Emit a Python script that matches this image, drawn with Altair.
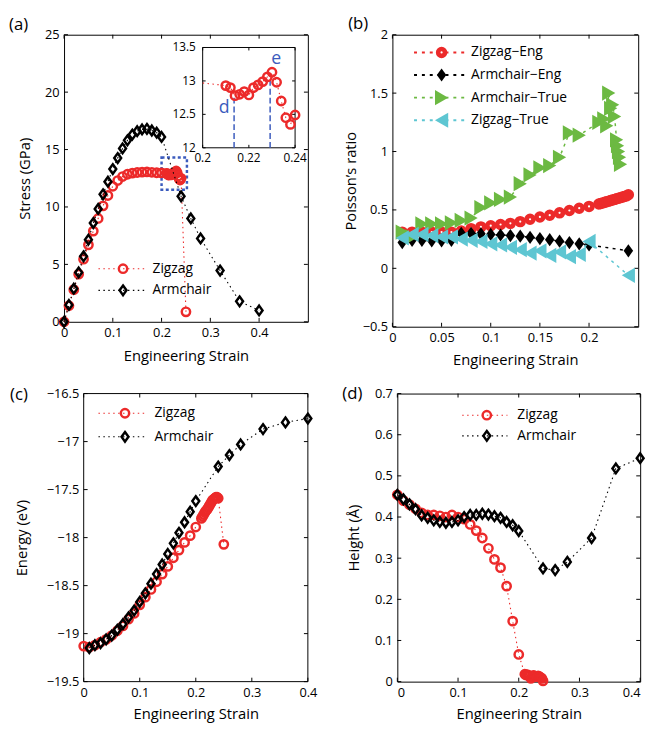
import altair as alt
import pandas as pd

FONT = "Open Sans"
RED = "#ec2a2a"
BLACK = "#000000"
GREEN = "#6cb942"
CYAN = "#5ec6d2"
BLUE = "#3b5bbd"
DIAMOND = "M0,-1L0.72,0L0,1L-0.72,0Z"

# ---------------- data ----------------
# (a) stress vs engineering strain
a_zz_strain = [0.00, 0.01, 0.02, 0.03, 0.04, 0.05, 0.06, 0.07, 0.08, 0.09, 0.10,
               0.11, 0.12, 0.13, 0.14, 0.15, 0.16, 0.17, 0.18, 0.19, 0.20, 0.21,
               0.212, 0.214, 0.216, 0.218, 0.220, 0.222, 0.224, 0.226, 0.228, 0.230,
               0.232, 0.234, 0.236, 0.238, 0.240, 0.25]
a_zz_stress = [0, 1.4, 2.8, 4.15, 5.45, 6.7, 7.9, 9.0, 10.1, 11.0, 11.8,
               12.3, 12.65, 12.85, 12.95, 13.0, 13.03, 13.05, 13.02, 12.98, 12.97, 12.93,
               12.90, 12.78, 12.80, 12.84, 12.79, 12.90, 12.94, 12.99, 13.06, 13.13,
               12.98, 12.70, 12.45, 12.35, 12.49, 0.87]
a_ac_strain = [0.00, 0.01, 0.02, 0.03, 0.04, 0.05, 0.06, 0.07, 0.08, 0.09, 0.10,
               0.11, 0.12, 0.13, 0.14, 0.15, 0.16, 0.17, 0.18, 0.19, 0.20,
               0.24, 0.26, 0.28, 0.32, 0.36, 0.40]
a_ac_stress = [0, 1.47, 2.88, 4.3, 5.7, 7.15, 8.6, 9.83, 11.1, 12.2, 13.3,
               14.26, 15.1, 15.8, 16.3, 16.6, 16.75, 16.8, 16.66, 16.47, 16.1,
               10.93, 9.0, 7.26, 4.46, 1.78, 0.99]
a_xticks = [0, 0.1, 0.2, 0.3, 0.4]
a_yticks = [0, 5, 10, 15, 20, 25]
inset_xticks = [0.2, 0.22, 0.24]
inset_xlabels = ["0.2", "0.22", "0.24"]
inset_yticks = [12, 12.5, 13, 13.5]
inset_ylabels = ["12", "12.5", "13", "13.5"]
mark_names = ["d", "e"]
mark_strain = [0.2136, 0.2292]
mark_stress = [12.77, 13.12]
mark_label_strain = [0.2093, 0.2318]
mark_label_stress = [12.6, 13.32]
zoom_box = [0.2, 0.252, 11.5, 14.3]

# (b) Poisson's ratio
b_zze_strain = [0.01, 0.02, 0.03, 0.04, 0.05, 0.06, 0.07, 0.08, 0.09, 0.10,
                0.11, 0.12, 0.13, 0.14, 0.15, 0.16, 0.17, 0.18, 0.19, 0.20, 0.21,
                0.212, 0.214, 0.216, 0.218, 0.220, 0.222, 0.224, 0.226, 0.228, 0.230,
                0.232, 0.234, 0.236, 0.238, 0.240]
b_zze_val = [0.31, 0.31, 0.31, 0.31, 0.31, 0.31, 0.32, 0.34, 0.355, 0.365,
             0.375, 0.385, 0.40, 0.42, 0.44, 0.455, 0.475, 0.495, 0.515, 0.53, 0.55,
             0.555, 0.56, 0.565, 0.57, 0.575, 0.58, 0.585, 0.59, 0.595, 0.60,
             0.605, 0.61, 0.615, 0.62, 0.63]
b_ace_strain = [0.01, 0.02, 0.03, 0.04, 0.05, 0.06, 0.07, 0.08, 0.09, 0.10,
                0.11, 0.12, 0.13, 0.14, 0.15, 0.16, 0.17, 0.18, 0.19, 0.20, 0.24]
b_ace_val = [0.22, 0.24, 0.24, 0.235, 0.235, 0.24, 0.30, 0.30, 0.295, 0.29,
             0.285, 0.28, 0.275, 0.265, 0.255, 0.245, 0.232, 0.22, 0.21, 0.20, 0.15]
b_act_strain = [0.01, 0.02, 0.03, 0.04, 0.05, 0.06, 0.07, 0.08, 0.09, 0.10,
                0.11, 0.12, 0.13, 0.14, 0.15, 0.16, 0.17, 0.18, 0.19, 0.21,
                0.215, 0.218, 0.220, 0.222, 0.224, 0.226, 0.228, 0.229, 0.230, 0.231, 0.232]
b_act_val = [0.31, 0.27, 0.38, 0.38, 0.38, 0.39, 0.41, 0.43, 0.52, 0.56,
             0.59, 0.61, 0.725, 0.80, 0.86, 0.88, 0.95, 1.16, 1.14, 1.25,
             1.28, 1.22, 1.50, 1.37, 1.40, 1.30, 1.10, 1.05, 1.00, 0.95, 0.89]
b_zzt_strain = [0.01, 0.02, 0.03, 0.04, 0.05, 0.06, 0.07, 0.08, 0.09, 0.10,
                0.11, 0.12, 0.13, 0.14, 0.15, 0.16, 0.17, 0.18, 0.19, 0.20, 0.24]
b_zzt_val = [0.26, 0.29, 0.29, 0.28, 0.27, 0.27, 0.25, 0.24, 0.23, 0.21,
             0.20, 0.18, 0.16, 0.13, 0.15, 0.11, 0.14, 0.10, 0.12, 0.23, -0.06]
b_xticks = [0, 0.05, 0.1, 0.15, 0.2]
b_yticks = [-0.5, 0, 0.5, 1, 1.5, 2]

# (c) energy
c_zz_energy = [-19.13, -19.14, -19.12, -19.09, -19.06, -19.02, -18.97, -18.92, -18.85, -18.79, -18.70,
               -18.62, -18.54, -18.46, -18.38, -18.30, -18.21, -18.13, -18.05, -17.98, -17.89, -17.80,
               -17.78, -17.76, -17.74, -17.72, -17.71, -17.69, -17.67, -17.65, -17.63, -17.61,
               -17.60, -17.59, -17.58, -17.58, -17.59, -18.07]
c_ac_strain = [0.01, 0.02, 0.03, 0.04, 0.05, 0.06, 0.07, 0.08, 0.09, 0.10,
               0.11, 0.12, 0.13, 0.14, 0.15, 0.16, 0.17, 0.18, 0.19, 0.20,
               0.24, 0.26, 0.28, 0.32, 0.36, 0.40]
c_ac_energy = [-19.15, -19.12, -19.10, -19.06, -19.02, -18.96, -18.90, -18.83, -18.76, -18.67,
               -18.58, -18.48, -18.38, -18.28, -18.17, -18.06, -17.95, -17.84, -17.73, -17.62,
               -17.26, -17.14, -17.03, -16.87, -16.80, -16.76]
c_xticks = [0, 0.1, 0.2, 0.3, 0.4]
c_yticks = [-19.5, -19, -18.5, -18, -17.5, -17, -16.5]

# (d) height
d_zz_strain = a_zz_strain[:-1]
d_zz_height = [0.454, 0.44, 0.43, 0.42, 0.41, 0.405, 0.405, 0.403, 0.40, 0.405, 0.40,
               0.395, 0.382, 0.367, 0.349, 0.324, 0.297, 0.277, 0.232, 0.147, 0.066, 0.018,
               0.016, 0.017, 0.015, 0.013, 0.008, 0.012, 0.015, 0.014, 0.013, 0.012,
               0.014, 0.012, 0.010, 0.008, 0.002]
d_ac_height = [0.454, 0.443, 0.431, 0.419, 0.404, 0.398, 0.392, 0.388, 0.386, 0.388, 0.392,
               0.40, 0.405, 0.405, 0.408, 0.406, 0.402, 0.398, 0.388, 0.38, 0.366,
               0.275, 0.271, 0.291, 0.349, 0.518, 0.543]
d_xticks = [0, 0.1, 0.2, 0.3, 0.4]
d_yticks = [0, 0.1, 0.2, 0.3, 0.4, 0.5, 0.6, 0.7]


# ---------------- helpers ----------------
class Frame:
    """Plot frame; x0 > 0 leaves an empty strip left of the plot box."""

    def __init__(self, W, H, xdom, ydom, xticks, yticks, xfmt, yfmt, ytitle, ytitle_x,
                 xtitle_y, x0=0, flush=False):
        self.W, self.H, self.x0 = W, H, x0
        rng = dict(range=[x0, W]) if x0 else {}
        self.sx = alt.Scale(domain=xdom, nice=False, zero=False, **rng)
        self.sy = alt.Scale(domain=ydom, nice=False, zero=False)
        self.xticks, self.yticks = xticks, yticks
        self.xaxis = alt.Axis(values=xticks, format=xfmt, title="Engineering Strain",
                              titleY=xtitle_y, titleBaseline="middle", labelFlush=flush,
                              labelOverlap=False)
        yextra = dict(offset=-x0) if x0 else {}
        self.yaxis = alt.Axis(values=yticks, format=yfmt, title=ytitle, titleX=ytitle_x,
                              titleBaseline="middle", labelOverlap=False, **yextra)

    def X(self, f="strain"):
        return alt.X(f"{f}:Q", scale=self.sx, axis=self.xaxis)

    def Y(self, f="val"):
        return alt.Y(f"{f}:Q", scale=self.sy, axis=self.yaxis)

    def ticks(self, L=4):
        xdf = pd.DataFrame({"strain": self.xticks})
        ydf = pd.DataFrame({"val": self.yticks})
        r = dict(color="black", strokeWidth=1)
        x0 = self.x0
        out = [
            alt.Chart(xdf).mark_rule(**r).encode(x=self.X(), y=alt.value(self.H), y2=alt.value(self.H - L)),
            alt.Chart(xdf).mark_rule(**r).encode(x=self.X(), y=alt.value(0), y2=alt.value(L)),
            alt.Chart(ydf).mark_rule(**r).encode(y=self.Y(), x=alt.value(x0), x2=alt.value(x0 + L)),
            alt.Chart(ydf).mark_rule(**r).encode(y=self.Y(), x=alt.value(self.W - L), x2=alt.value(self.W)),
        ]
        if x0:
            out.append(alt.Chart(pd.DataFrame({"k": [0]})).mark_rect(
                fillOpacity=0, stroke="black", strokeWidth=1).encode(
                x=alt.value(x0), x2=alt.value(self.W), y=alt.value(0), y2=alt.value(self.H)))
        return out

    def series(self, strain, vals, color, shape, size, filled, sw=2.5, dash=(1.5, 3.5), lw=1.1,
               dot_upto=None):
        df = pd.DataFrame({"strain": strain, "val": vals})
        base = alt.Chart(df)
        line = base.mark_line(color=color, strokeDash=list(dash), strokeWidth=lw).encode(
            x=self.X(), y=self.Y())
        if filled:
            pts = base.mark_point(shape=shape, size=size, filled=True, color=color,
                                  opacity=1, strokeWidth=0).encode(x=self.X(), y=self.Y())
        else:
            pts = base.mark_point(shape=shape, size=size, filled=False, color=color,
                                  opacity=1, strokeWidth=sw).encode(x=self.X(), y=self.Y())
        out = [line, pts]
        if dot_upto is not None:
            out.append(alt.Chart(df[df["strain"] <= dot_upto]).mark_point(
                shape="circle", size=5, filled=True, color="white", opacity=1).encode(
                x=self.X(), y=self.Y()))
        return out


def legend_entry(x0, x1, xm, xt, y, color, shape, size, filled, label,
                 dash=(1.5, 3.5), lw=1.1, sw=2.5, fs=14, dot=False):
    c = alt.Chart(pd.DataFrame({"t": [label]}))
    rule = c.mark_rule(color=color, strokeDash=list(dash), strokeWidth=lw).encode(
        x=alt.value(x0), x2=alt.value(x1), y=alt.value(y))
    if filled:
        pt = c.mark_point(shape=shape, size=size, filled=True, color=color, opacity=1,
                          strokeWidth=0).encode(x=alt.value(xm), y=alt.value(y))
    else:
        pt = c.mark_point(shape=shape, size=size, filled=False, color=color, opacity=1,
                          strokeWidth=sw).encode(x=alt.value(xm), y=alt.value(y))
    txt = c.mark_text(align="left", baseline="middle", font=FONT, fontSize=fs,
                      color="black").encode(x=alt.value(xt), y=alt.value(y), text="t:N")
    out = [rule, pt, txt]
    if dot:
        out.append(c.mark_point(shape="circle", size=5, filled=True, color="white",
                                opacity=1).encode(x=alt.value(xm), y=alt.value(y)))
    return out


def panel_label(text, dx, dy):
    return alt.Chart(pd.DataFrame({"t": [text]})).mark_text(
        align="left", baseline="middle", font=FONT, fontSize=17, color="black").encode(
        x=alt.value(dx), y=alt.value(dy), text="t:N")


# ---------------- panel (a) ----------------
fa = Frame(248, 292, [0, 0.5], [0, 25], a_xticks, a_yticks, ".1~f", "d", "Stress (GPa)", -40, 34)
box_df = pd.DataFrame({"x0": [zoom_box[0]], "x1": [zoom_box[1]],
                       "y0": [zoom_box[2]], "y1": [zoom_box[3]]})
box = alt.Chart(box_df).mark_rect(fillOpacity=0, stroke=BLUE, strokeWidth=2.5,
                                  strokeDash=[3, 2.5]).encode(
    x=fa.X("x0"), x2="x1:Q", y=fa.Y("y0"), y2="y1:Q")
main_a = alt.layer(
    *fa.ticks(),
    box,
    *fa.series(a_zz_strain, a_zz_stress, RED, "circle", 72, False),
    *fa.series(a_ac_strain, a_ac_stress, BLACK, DIAMOND, 95, False),
    *legend_entry(35, 82, 60, 90, 238, RED, "circle", 72, False, "Zigzag"),
    *legend_entry(35, 82, 60, 90, 260, BLACK, DIAMOND, 95, False, "Armchair"),
    panel_label("(a)", -56, -10),
)

IX0, IX1, IY0, IY1 = 141, 235, 13, 115
sxi = alt.Scale(domain=[0.2, 0.24], range=[IX0, IX1], nice=False, zero=False)
syi = alt.Scale(domain=[12, 13.5], range=[IY1, IY0], nice=False, zero=False)


def IXe(f="strain"):
    return alt.X(f"{f}:Q", scale=sxi, axis=None)


def IYe(f="val"):
    return alt.Y(f"{f}:Q", scale=syi, axis=None)


one = pd.DataFrame({"k": [0]})
frame = alt.Chart(one).mark_rect(fill="white", stroke="black", strokeWidth=1).encode(
    x=alt.value(IX0), x2=alt.value(IX1), y=alt.value(IY0), y2=alt.value(IY1))
ixdf = pd.DataFrame({"strain": inset_xticks, "lab": inset_xlabels})
iydf = pd.DataFrame({"val": inset_yticks, "lab": inset_ylabels})
inset_layers = [
    frame,
    alt.Chart(ixdf).mark_rule(color="black").encode(x=IXe(), y=alt.value(IY1), y2=alt.value(IY1 - 3)),
    alt.Chart(ixdf).mark_rule(color="black").encode(x=IXe(), y=alt.value(IY0), y2=alt.value(IY0 + 3)),
    alt.Chart(iydf).mark_rule(color="black").encode(y=IYe(), x=alt.value(IX0), x2=alt.value(IX0 + 3)),
    alt.Chart(iydf).mark_rule(color="black").encode(y=IYe(), x=alt.value(IX1 - 3), x2=alt.value(IX1)),
    alt.Chart(ixdf).mark_text(baseline="top", font=FONT, fontSize=12, color="black").encode(
        x=IXe(), y=alt.value(IY1 + 5), text="lab:N"),
    alt.Chart(iydf).mark_text(align="right", baseline="middle", font=FONT, fontSize=12,
                              color="black").encode(y=IYe(), x=alt.value(IX0 - 7), text="lab:N"),
]
ins_line_df = pd.DataFrame({"strain": [s for s in a_zz_strain if 0.2 <= s <= 0.24],
                            "val": [v for s, v in zip(a_zz_strain, a_zz_stress) if 0.2 <= s <= 0.24]})
ins_pts_df = ins_line_df[ins_line_df["strain"] >= 0.205]
inset_layers.append(alt.Chart(ins_line_df).mark_line(
    color=RED, strokeDash=[1.5, 3.5], strokeWidth=1.1).encode(x=IXe(), y=IYe()))
mk_df = pd.DataFrame({"strain": mark_strain, "val": mark_stress, "base": [12, 12]})
inset_layers.append(alt.Chart(mk_df).mark_rule(color=BLUE, strokeDash=[6, 3], strokeWidth=1.5).encode(
    x=IXe(), y=IYe("base"), y2="val:Q"))
inset_layers.append(alt.Chart(ins_pts_df).mark_point(
    shape="circle", size=72, filled=False, color=RED, opacity=1, strokeWidth=2.5).encode(x=IXe(), y=IYe()))
ml_df = pd.DataFrame({"strain": mark_label_strain, "val": mark_label_stress, "t": mark_names})
inset_layers.append(alt.Chart(ml_df).mark_text(font=FONT, fontSize=18, color=BLUE,
                                               baseline="middle").encode(x=IXe(), y=IYe(), text="t:N"))
inset = alt.layer(*inset_layers)

panel_a = alt.layer(main_a, inset).resolve_scale(x="independent", y="independent").properties(
    width=fa.W, height=fa.H)

# ---------------- panel (b) ----------------
fb = Frame(250, 297, [0, 0.25], [-0.5, 2], b_xticks, b_yticks, ".2~f", ".1~f",
           "Poisson\u2019s ratio", -43, 33)
bd = (3, 4.5)
TRI = 240
panel_b = alt.layer(
    *fb.ticks(),
    *fb.series(b_zze_strain, b_zze_val, RED, "circle", 135, True, dash=bd, lw=1.5, dot_upto=0.2),
    *fb.series(b_ace_strain, b_ace_val, BLACK, DIAMOND, 180, True, dash=bd, lw=1.5),
    *fb.series(b_act_strain, b_act_val, GREEN, "triangle-right", TRI, True, dash=bd, lw=1.5),
    *fb.series(b_zzt_strain, b_zzt_val, CYAN, "triangle-left", TRI, True, dash=bd, lw=1.5),
    *legend_entry(22, 75, 50, 80, 18, RED, "circle", 135, True, "Zigzag\u2212Eng", dash=(3, 5), lw=2, dot=True),
    *legend_entry(22, 75, 50, 80, 41, BLACK, DIAMOND, 180, True, "Armchair\u2212Eng", dash=(3, 5), lw=2),
    *legend_entry(22, 75, 50, 80, 64, GREEN, "triangle-right", TRI, True, "Armchair\u2212True", dash=(3, 5), lw=2),
    *legend_entry(22, 75, 50, 80, 87, CYAN, "triangle-left", TRI, True, "Zigzag\u2212True", dash=(3, 5), lw=2),
    panel_label("(b)", -45, -11),
).properties(width=fb.W, height=fb.H)

# ---------------- panel (c) ----------------
CX0 = 20
fc = Frame(228 + CX0, 293, [0, 0.4], [-19.5, -16.5], c_xticks, c_yticks, ".1~f", ".1~f",
           "Energy (eV)", -63, 33, x0=CX0)
panel_c = alt.layer(
    *fc.ticks(),
    *fc.series(a_zz_strain, c_zz_energy, RED, "circle", 72, False),
    *fc.series(c_ac_strain, c_ac_energy, BLACK, DIAMOND, 95, False),
    *legend_entry(CX0 + 15, CX0 + 62, CX0 + 42, CX0 + 72, 20, RED, "circle", 72, False, "Zigzag"),
    *legend_entry(CX0 + 15, CX0 + 62, CX0 + 42, CX0 + 72, 44, BLACK, DIAMOND, 95, False, "Armchair"),
    panel_label("(c)", CX0 - 75, 2),
).properties(width=fc.W, height=fc.H, view=alt.ViewBackground(stroke="transparent"))

# ---------------- panel (d) ----------------
fd = Frame(247, 293, [0, 0.4], [0, 0.7], d_xticks, d_yticks, ".1~f", ".1~f",
           "Height (\u00c5)", -44, 33, flush=True)
panel_d = alt.layer(
    *fd.ticks(),
    *fd.series(d_zz_strain, d_zz_height, RED, "circle", 72, False),
    *fd.series(a_ac_strain, d_ac_height, BLACK, DIAMOND, 95, False),
    *legend_entry(66, 112, 91, 122, 22, RED, "circle", 72, False, "Zigzag"),
    *legend_entry(66, 112, 91, 122, 43, BLACK, DIAMOND, 95, False, "Armchair"),
    panel_label("(d)", -56, 1),
).properties(width=fd.W, height=fd.H)

row1 = alt.hconcat(panel_a, panel_b, spacing=34)
row2 = alt.hconcat(panel_c, panel_d, spacing=24)
chart = alt.vconcat(row1, row2, spacing=17).configure_view(
    stroke="black", strokeWidth=1
).configure_axis(
    domain=False, ticks=False, grid=False, labelFont=FONT, labelFontSize=13,
    labelColor="black", titleFont=FONT, titleFontSize=15, titleFontWeight="normal",
    titleColor="black", labelPadding=5
).properties(padding=0, background="white")

chart.save("out.html", embed_options={"renderer": "svg", "actions": False})
